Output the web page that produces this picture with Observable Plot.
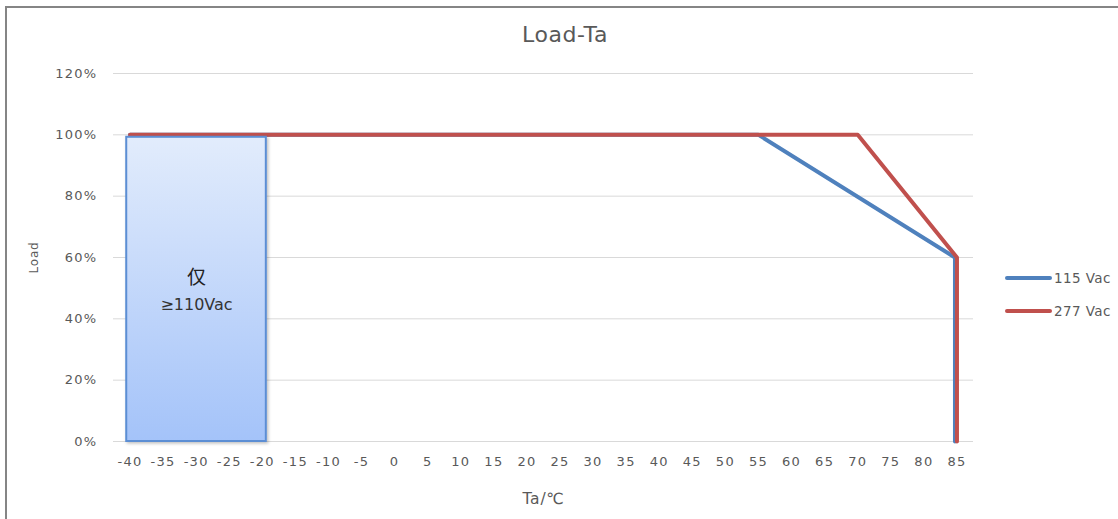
<!DOCTYPE html>
<html>
<head>
<meta charset="utf-8">
<script src="https://cdn.jsdelivr.net/npm/d3@7"></script>
<script src="https://cdn.jsdelivr.net/npm/@observablehq/plot@0.6"></script>
<style>
  html, body { margin: 0; padding: 0; background: #fff; }
  #wrap { position: relative; width: 1118px; height: 519px; overflow: hidden; font-family: "DejaVu Sans", sans-serif; }
  #frame { position: absolute; left: 5px; top: 6px; width: 1130px; height: 540px; border: 2px solid #858585; box-sizing: border-box; }
  #title { position: absolute; left: 0; width: 1130px; top: 22px; text-align: center; font-size: 22px; letter-spacing: 0.6px; color: #595959; }
  #legend { position: absolute; left: 1005px; top: 262px; font-size: 13.5px; letter-spacing: 0.4px; color: #595959; }
  .item { display: flex; align-items: center; height: 32.5px; }
  .sw { width: 47px; height: 4px; border-radius: 2px; margin-right: 2px; }
  #chart { position: absolute; left: 0; top: 0; }
  g[aria-label="x-axis tick label"] text, g[aria-label="y-axis tick label"] text { font-family: "DejaVu Sans", sans-serif; font-size: 13px; letter-spacing: 1.3px; fill: #595959; }
  g[aria-label="x-axis label"] text { font-family: "DejaVu Sans", sans-serif; font-size: 15.5px; letter-spacing: 0.8px; fill: #595959; }
  g[aria-label="y-axis label"] text { font-family: "DejaVu Sans", sans-serif; font-size: 12px; letter-spacing: 0.8px; fill: #595959; }
</style>
</head>
<body>
<div id="wrap">
  <div id="frame"></div>
  <div id="chart"></div>
  <div id="title">Load-Ta</div>
  <div id="legend"></div>
</div>
<script>
// Data
const seriesNames = ["115 Vac", "277 Vac"];
const seriesColors = ["#4f81bd", "#c0504d"];
const ta115 = [-40, 55, 84.7, 84.7];
const load115 = [100, 100, 60, 0];
const ta277 = [-40, 70, 85, 85];
const load277 = [100, 100, 60, 0];
const xTicks = [-40, -35, -30, -25, -20, -15, -10, -5, 0, 5, 10, 15, 20, 25, 30, 35, 40, 45, 50, 55, 60, 65, 70, 75, 80, 85];
const yTicks = [0, 20, 40, 60, 80, 100, 120];
const boxTa = [-40.5, -19.4];
const boxLoad = [0, 99.2];
const boxLabel = ["仅", "≥110Vac"];

const rows = [];
ta115.forEach((t, i) => rows.push({series: seriesNames[0], ta: t, load: load115[i]}));
ta277.forEach((t, i) => rows.push({series: seriesNames[1], ta: t, load: load277[i]}));
const box = [{x1: boxTa[0], x2: boxTa[1], y1: boxLoad[0], y2: boxLoad[1]}];
const boxMid = (boxTa[0] + boxTa[1]) / 2;

const plot = Plot.plot({
  width: 1118,
  height: 519,
  marginLeft: 113,
  marginRight: 145,
  marginTop: 73,
  marginBottom: 78,
  style: {fontFamily: "'DejaVu Sans', sans-serif", fontSize: "12px", color: "#595959", background: "transparent"},
  x: {domain: [-42.5, 87.5]},
  y: {domain: [0, 120]},
  marks: [
    Plot.ruleY(yTicks, {x1: -42.5, x2: 87.5, stroke: "#d9d9d9", strokeWidth: 1}),
    Plot.axisX({ticks: xTicks, tickSize: 0, tickPadding: 15, tickFormat: d => String(d), label: "Ta/℃", labelAnchor: "center", labelOffset: 62, labelArrow: "none"}),
    Plot.axisY({ticks: yTicks, tickSize: 0, tickPadding: 16, tickFormat: d => d + "%", label: "Load", labelAnchor: "center", labelOffset: 84, labelArrow: "none"}),
    Plot.line(rows.filter(d => d.series === seriesNames[0]), {x: "ta", y: "load", stroke: seriesColors[0], strokeWidth: 4, strokeLinejoin: "round"}),
    Plot.line(rows.filter(d => d.series === seriesNames[1]), {x: "ta", y: "load", stroke: seriesColors[1], strokeWidth: 4, strokeLinejoin: "round"}),
    Plot.rect(box, {x1: "x1", x2: "x2", y1: "y1", y2: "y2", fill: "url(#boxGrad)", stroke: "#5b8ed4", strokeWidth: 2, className: "boxrect"}),
    Plot.text([boxLabel[0]], {x: boxMid, y: 53.3, text: d => d, fontSize: 19, fill: "#222", fontFamily: "'Noto Sans CJK SC', sans-serif"}),
    Plot.text([boxLabel[1]], {x: boxMid, y: 44.6, text: d => d, fontSize: 16, fill: "#333", fontFamily: "'DejaVu Sans', sans-serif", letterSpacing: "1px"})
  ]
});

const ns = "http://www.w3.org/2000/svg";
const defs = document.createElementNS(ns, "defs");
defs.innerHTML = `
  <linearGradient id="boxGrad" x1="0" y1="0" x2="0" y2="1">
    <stop offset="0" stop-color="#e2ecfc"/>
    <stop offset="1" stop-color="#a4c3f9"/>
  </linearGradient>
  <filter id="boxShadow" x="-10%" y="-10%" width="130%" height="130%">
    <feDropShadow dx="1.5" dy="1.5" stdDeviation="1.5" flood-color="#000" flood-opacity="0.25"/>
  </filter>`;
plot.insertBefore(defs, plot.firstChild);
d3.select(plot).selectAll(".boxrect").attr("filter", "url(#boxShadow)");
document.getElementById("chart").appendChild(plot);

const legend = document.getElementById("legend");
seriesNames.forEach((name, i) => {
  const item = document.createElement("div");
  item.className = "item";
  item.innerHTML = `<span class="sw" style="background:${seriesColors[i]}"></span><span>${name}</span>`;
  legend.appendChild(item);
});
</script>
</body>
</html>
